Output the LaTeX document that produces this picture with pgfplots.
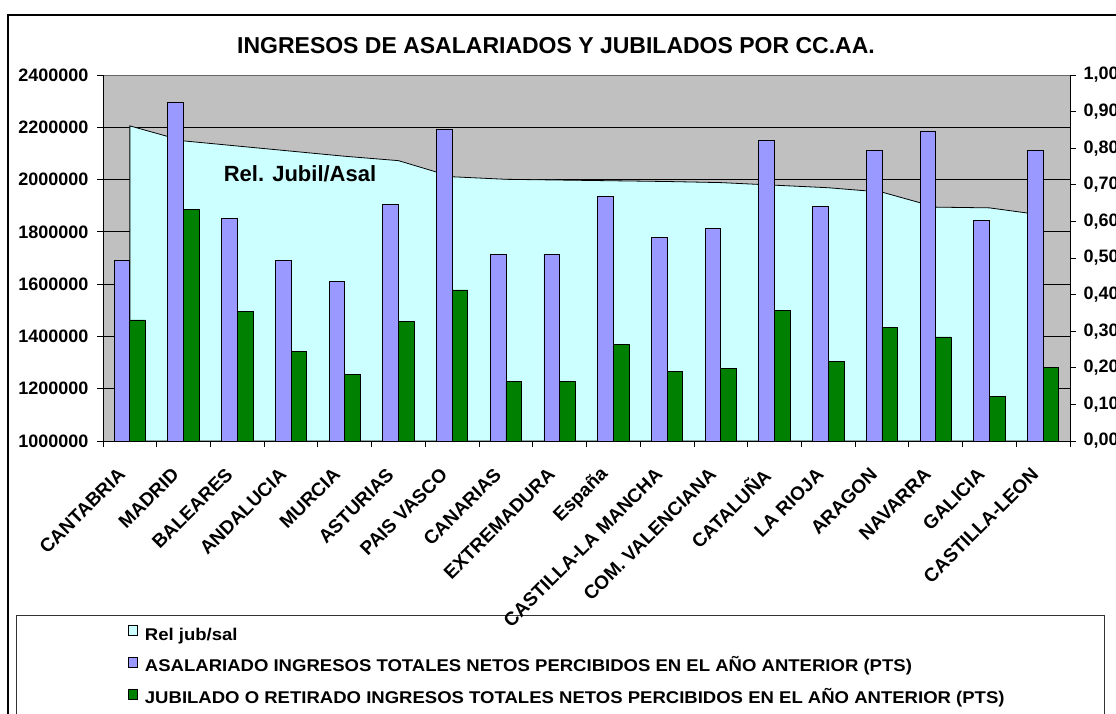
\documentclass[border=0pt]{standalone}
\usepackage{pgfplots}
\pgfplotsset{compat=1.18}
\usepackage{pgfplotstable}
\usepackage{fontspec}
\setmainfont{Liberation Sans}
\newfontfamily\legfont[FakeStretch=1.09]{Liberation Sans}

\definecolor{relcyan}{HTML}{CCFFFF}
\definecolor{asalblue}{HTML}{9999FF}
\definecolor{jubgreen}{HTML}{008000}
\definecolor{plotgray}{HTML}{C0C0C0}

% x = category centre, asal / jub in PTS, rel = jub/asal
\pgfplotstableread{
x    asal    jub     rel
0.5  1692000 1463000 0.861
1.5  2295000 1885000 0.820
2.5  1850000 1495000 0.806
3.5  1692000 1342000 0.792
4.5  1611000 1255000 0.778
5.5  1906000 1456000 0.766
6.5  2191000 1578000 0.722
7.5  1715000 1227000 0.715
8.5  1715000 1227000 0.713
9.5  1935000 1370000 0.711
10.5 1780000 1265000 0.709
11.5 1812000 1277000 0.706
12.5 2148000 1501000 0.699
13.5 1896000 1303000 0.692
14.5 2110000 1436000 0.680
15.5 2186000 1398000 0.639
16.5 1845000 1172000 0.637
17.5 2110000 1282000 0.617
}\datos

\begin{document}
\begin{tikzpicture}
\path[use as bounding box] (0pt,0pt) rectangle (1116pt,-713pt);
\clip (0pt,0pt) rectangle (1116pt,-713pt);
\fill[white] (0pt,0pt) rectangle (1116pt,-713pt);
\draw[line width=1.5pt] (8pt,-15pt) rectangle (1130pt,-730pt);
\draw[line width=1pt, black!80] (16pt,-615pt) rectangle (1104pt,-730pt);

\node[font=\bfseries\fontsize{23}{27}\selectfont] at (556pt,-46pt)
  {INGRESOS DE ASALARIADOS Y JUBILADOS POR CC.AA.};

% ratio, right axis
\begin{axis}[
  at={(103pt,-441pt)}, anchor=south west,
  scale only axis, width=967pt, height=366pt,
  xmin=0, xmax=18, ymin=0, ymax=1,
  axis x line=none, axis y line*=right,
  axis line style={black, line width=1pt},
  axis background/.style={fill=plotgray},
  ytick={0,0.1,0.2,0.3,0.4,0.5,0.6,0.7,0.8,0.9,1},
  tick align=outside, major tick length=6pt,
  tick style={black, line width=0.8pt},
  yticklabel style={font=\bfseries\fontsize{18}{21}\selectfont, anchor=west, xshift=4pt,
    /pgf/number format/.cd, fixed, fixed zerofill, precision=2, use comma, assume math mode=true},
  extra y ticks={0.142857,0.285714,0.428571,0.571429,0.714286,0.857143},
  extra y tick labels={},
  extra y tick style={grid=major, major tick length=0pt, grid style={black, line width=0.8pt}},
]
\addplot[fill=relcyan, draw=black, line width=0.8pt] table[x=x, y=rel]{\datos} \closedcycle;
\draw[gray!80!black, line width=1pt] (rel axis cs:0,1) -- (rel axis cs:1,1);
\end{axis}

% incomes, left axis
\begin{axis}[
  at={(103pt,-441pt)}, anchor=south west,
  scale only axis, width=967pt, height=366pt,
  xmin=0, xmax=18, ymin=1000000, ymax=2400000,
  axis x line*=bottom, axis y line*=left, axis on top,
  axis line style={black, line width=1pt},
  tick align=outside, major tick length=6pt,
  tick style={black, line width=0.8pt},
  xtick={0,...,18}, x tick label as interval,
  xticklabels={CANTABRIA, MADRID, BALEARES, ANDALUCIA, MURCIA, ASTURIAS, PAIS VASCO,
    CANARIAS, EXTREMADURA, España, CASTILLA-LA MANCHA, COM. VALENCIANA, CATALUÑA,
    LA RIOJA, ARAGON, NAVARRA, GALICIA, CASTILLA-LEON},
  xticklabel style={font=\bfseries\fontsize{19}{22}\selectfont, rotate=45, anchor=east,
    xshift=-19.5pt, yshift=-11.5pt},
  ytick={1000000,1200000,1400000,1600000,1800000,2000000,2200000,2400000},
  scaled y ticks=false,
  yticklabel style={font=\bfseries\fontsize{18}{21}\selectfont, xshift=-5pt,
    /pgf/number format/.cd, fixed, precision=0, 1000 sep={}, assume math mode=true},
  legend style={at={(0.0259,-0.5027)}, anchor=north west, draw=none, fill=none,
    inner sep=0pt, font=\legfont\bfseries\fontsize{17}{20}\selectfont, row sep=13pt,
    nodes={inner sep=0pt, text height=13pt, text depth=4pt}},
  legend cell align=left,
  legend image code/.code={\draw[#1, draw=black, line width=0.6pt] (0pt,0pt) rectangle (9pt,10pt);
    \path (16pt,0pt);},
]
\addlegendimage{fill=relcyan}
\addplot[ybar, bar width=0.292, bar shift=-0.146, fill=asalblue, draw=black, line width=0.8pt]
  table[x=x, y=asal]{\datos};
\addplot[ybar, bar width=0.292, bar shift=0.146, fill=jubgreen, draw=black, line width=0.8pt]
  table[x=x, y=jub]{\datos};
\legend{Rel jub/sal,
  ASALARIADO INGRESOS TOTALES NETOS PERCIBIDOS EN EL AÑO ANTERIOR (PTS),
  JUBILADO O RETIRADO INGRESOS TOTALES NETOS PERCIBIDOS EN EL AÑO ANTERIOR (PTS)}
\end{axis}

\node[font=\bfseries\fontsize{22}{26}\selectfont] at (300pt,-174pt) {Rel. Jubil/Asal};
\end{tikzpicture}
\end{document}
